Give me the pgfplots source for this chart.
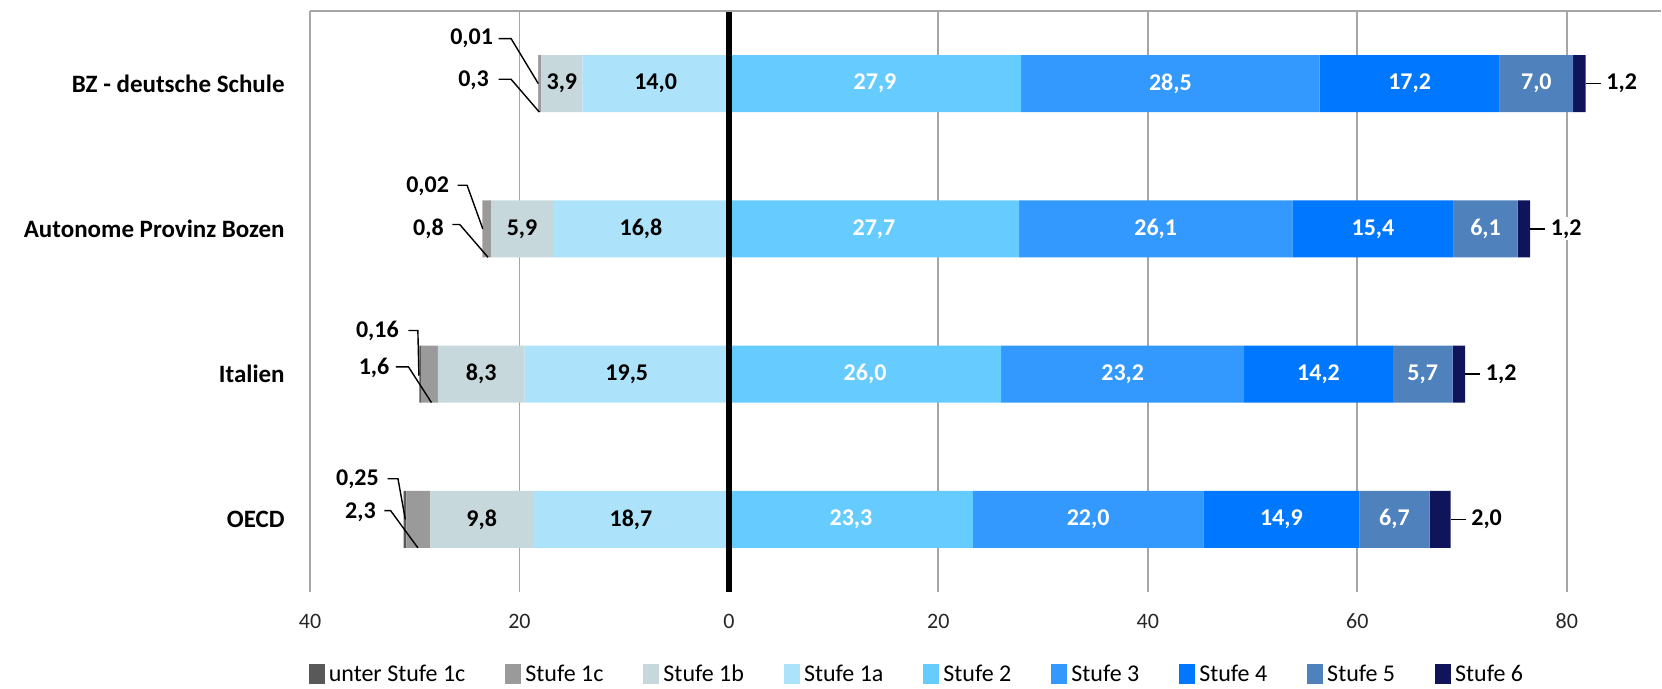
\documentclass[border=0pt]{standalone}
\usepackage{fontspec}
\setmainfont{Carlito}
\usepackage{pgfplots}
\pgfplotsset{compat=1.18}
\definecolor{cU}{HTML}{595959}
\definecolor{cOneC}{HTML}{9A9A9A}
\definecolor{cOneB}{HTML}{C6D8DB}
\definecolor{cOneA}{HTML}{ADE3FA}
\definecolor{cTwo}{HTML}{66CCFF}
\definecolor{cThree}{HTML}{3399FF}
\definecolor{cFour}{HTML}{0077FF}
\definecolor{cFive}{HTML}{4F81BD}
\definecolor{cSix}{HTML}{10145A}
\definecolor{gridc}{HTML}{A6A6A6}
\pgfplotsset{
  base/.style={
    width=675.5pt, height=290.5pt, scale only axis,
    xmin=-40, xmax=89, ymin=0.5, ymax=4.5,
    clip=false,
  },
  lbl/.style={only marks, mark=none, nodes near coords, point meta=explicit symbolic},
}
\begin{document}
\begin{tikzpicture}
% negative side
\begin{axis}[base, name=main,
  xbar stacked, bar width=28.5pt,
  xtick={-40,-20,0,20,40,60,80}, xticklabels={40,20,0,20,40,60,80},
  xmajorgrids, grid style={color=gridc, line width=0.9pt},
  ytick={1,2,3,4},
  yticklabels={OECD, Italien, Autonome Provinz Bozen, BZ - deutsche Schule},
  yticklabel style={font=\bfseries\fontsize{12.5}{14}\selectfont, anchor=east, inner sep=0pt, xshift=-12.5pt, text=black},
  xticklabel style={font=\fontsize{11}{13}\selectfont, anchor=center, inner sep=0pt, yshift=-14.5pt, text=black!85},
  axis line style={draw=none}, major tick length=0pt, tick style={draw=none},
]
\addplot[fill=cOneA, draw=none] coordinates {(-14.0,4) (-16.8,3) (-19.5,2) (-18.7,1)};
\addplot[fill=cOneB, draw=none] coordinates {(-3.9,4) (-5.9,3) (-8.3,2) (-9.8,1)};
\addplot[fill=cOneC, draw=none] coordinates {(-0.3,4) (-0.8,3) (-1.6,2) (-2.3,1)};
\addplot[fill=cU, draw=none] coordinates {(-0.01,4) (-0.02,3) (-0.16,2) (-0.25,1)};
\end{axis}
% positive side
\begin{axis}[base, xbar stacked, bar width=28.5pt, hide axis]
\addplot[fill=cTwo, draw=none] coordinates {(27.9,4) (27.7,3) (26.0,2) (23.3,1)};
\addplot[fill=cThree, draw=none] coordinates {(28.5,4) (26.1,3) (23.2,2) (22.0,1)};
\addplot[fill=cFour, draw=none] coordinates {(17.2,4) (15.4,3) (14.2,2) (14.9,1)};
\addplot[fill=cFive, draw=none] coordinates {(7.0,4) (6.1,3) (5.7,2) (6.7,1)};
\addplot[fill=cSix, draw=none] coordinates {(1.2,4) (1.2,3) (1.2,2) (2.0,1)};
\end{axis}
% overlay: zero line, labels, legend
\begin{axis}[base,
  axis line style={draw=none}, tick style={draw=none}, major tick length=0pt,
  xtick={0}, xticklabels={}, ytick=\empty,
  xmajorgrids, grid style={black, line width=2.6pt},
  legend style={at={(0.45,-0.143)}, anchor=center, draw=none, fill=none,
    legend columns=9, font=\fontsize{12}{14}\selectfont,
    /tikz/every even column/.append style={column sep=18pt}},
  legend cell align=left,
  legend image code/.code={\fill[#1] (0pt,-4.5pt) rectangle (8pt,5.5pt);},
]
\draw[color=gridc, line width=0.9pt] (rel axis cs:0,1) -- (rel axis cs:1,1);
\addlegendimage{fill=cU, draw=none}\addlegendentry{unter Stufe 1c}
\addlegendimage{fill=cOneC, draw=none}\addlegendentry{Stufe 1c}
\addlegendimage{fill=cOneB, draw=none}\addlegendentry{Stufe 1b}
\addlegendimage{fill=cOneA, draw=none}\addlegendentry{Stufe 1a}
\addlegendimage{fill=cTwo, draw=none}\addlegendentry{Stufe 2}
\addlegendimage{fill=cThree, draw=none}\addlegendentry{Stufe 3}
\addlegendimage{fill=cFour, draw=none}\addlegendentry{Stufe 4}
\addlegendimage{fill=cFive, draw=none}\addlegendentry{Stufe 5}
\addlegendimage{fill=cSix, draw=none}\addlegendentry{Stufe 6}
% inside labels, black
\addplot[lbl, forget plot, every node near coord/.style={anchor=center, font=\bfseries\fontsize{12}{14}\selectfont, text=black}]
  table[meta=lab] {
x y lab
-15.95 4 3,9
-7.0 4 14,0
-19.75 3 5,9
-8.4 3 16,8
-23.65 2 8,3
-9.75 2 19,5
-23.6 1 9,8
-9.35 1 18,7
};
% inside labels, white
\addplot[lbl, forget plot, every node near coord/.style={anchor=center, font=\bfseries\fontsize{12}{14}\selectfont, text=white}]
  table[meta=lab] {
x y lab
13.95 4 27,9
42.15 4 28,5
65.0 4 17,2
77.1 4 7,0
13.85 3 27,7
40.75 3 26,1
61.5 3 15,4
72.25 3 6,1
13.0 2 26,0
37.6 2 23,2
56.3 2 14,2
66.25 2 5,7
11.65 1 23,3
34.3 1 22,0
52.75 1 14,9
63.55 1 6,7
};
% right labels (Stufe 6)
\addplot[lbl, forget plot, every node near coord/.style={anchor=west, inner sep=1pt, fill=white, font=\bfseries\fontsize{12}{14}\selectfont, text=black}]
  table[meta=lab] {
x y lab
83.56 4 1,2
78.26 3 1,2
72.06 2 1,2
70.66 1 2,0
};
\addplot[forget plot, black, line width=0.7pt] coordinates {(81.8,4) (83.25,4)};
\addplot[forget plot, black, line width=0.7pt] coordinates {(76.5,3) (77.95,3)};
\addplot[forget plot, black, line width=0.7pt] coordinates {(70.3,2) (71.75,2)};
\addplot[forget plot, black, line width=0.7pt] coordinates {(68.9,1) (70.35,1)};
% left labels
\addplot[lbl, forget plot, every node near coord/.style={anchor=east, inner sep=1pt, fill=white, font=\bfseries\fontsize{12}{14}\selectfont, text=black}]
  table[meta=lab] {
x y lab
-22.3 4.31 0,01
-22.7 4.02 0,3
-26.5 3.29 0,02
-27.0 3.0 0,8
-31.3 2.30 0,16
-32.2 2.04 1,6
-33.2 1.275 0,25
-33.5 1.05 2,3
};
\addplot[forget plot, black, line width=0.7pt] coordinates {(-22.0,4.31) (-20.8,4.31) (-18.2,4.0)};
\addplot[forget plot, black, line width=0.7pt] coordinates {(-22.0,4.03) (-20.8,4.03) (-18.1,3.804)};
\addplot[forget plot, black, line width=0.7pt] coordinates {(-25.9,3.30) (-25.0,3.30) (-23.5,3.0)};
\addplot[forget plot, black, line width=0.7pt] coordinates {(-26.4,3.03) (-25.7,3.03) (-23.0,2.804)};
\addplot[forget plot, black, line width=0.7pt] coordinates {(-30.6,2.30) (-29.7,2.30) (-29.6,1.99)};
\addplot[forget plot, black, line width=0.7pt] coordinates {(-31.8,2.05) (-30.6,2.05) (-28.4,1.804)};
\addplot[forget plot, black, line width=0.7pt] coordinates {(-32.6,1.28) (-31.6,1.28) (-30.9,1.0)};
\addplot[forget plot, black, line width=0.7pt] coordinates {(-32.9,1.06) (-32.3,1.06) (-29.7,0.804)};
\end{axis}
\path (main.south west) ++(-155pt,-48.5pt) coordinate (bbl);
\path (main.north east) ++(0.5pt,5.5pt) coordinate (btr);
\pgfresetboundingbox
\path[use as bounding box] (bbl) rectangle (btr);
\end{tikzpicture}
\end{document}
